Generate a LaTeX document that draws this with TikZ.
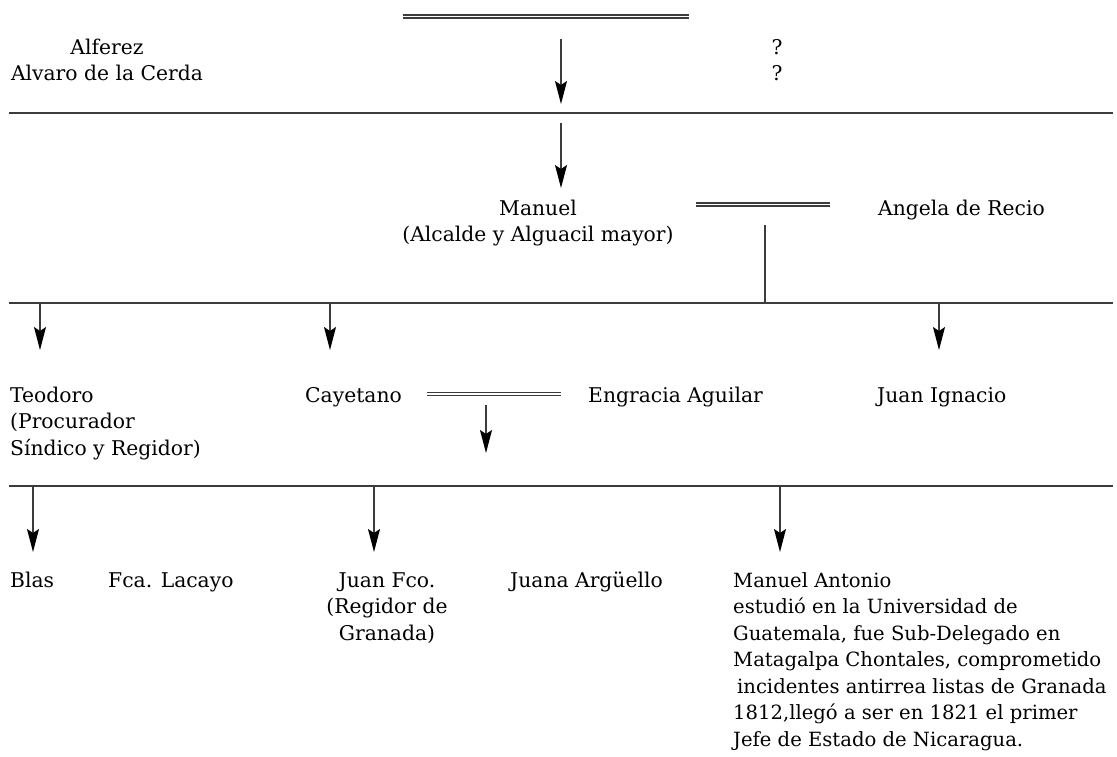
\documentclass[tikz,border=0pt]{standalone}
\usepackage{fontspec}
\setmainfont{DejaVu Serif}
\usetikzlibrary{arrows.meta}

\begin{document}
\begin{tikzpicture}[x=1pt, y=-1pt, font=\fontsize{20.3}{26.5}\selectfont]

  \definecolor{my_line}{RGB}{60,60,60}

  \tikzstyle{person} = [inner sep=0pt, anchor=base west, align=left]
  \tikzstyle{centred} = [inner sep=0pt, anchor=base, align=center]
  \tikzstyle{bar} = [draw=my_line, line width=1.4pt]
  \tikzstyle{marriage} = [draw=my_line, line width=1.3pt, double, double distance=1.8pt]
  \tikzstyle{descent} = [draw=my_line, line width=1.4pt, -{Stealth[length=23pt, width=12pt, inset=4pt, color=black]}]

  \useasboundingbox (0,0) rectangle (1117,756);

  % generation 1
  \coordinate (top_w) at (403,16.5);
  \coordinate (top_e) at (689,16.5);
  \node [centred] (alvaro) at (107,80.5) {Alferez\\Alvaro de la Cerda};
  \node [centred] (unknown) at (777,80.5) {?\\?};
  \path [marriage] (top_w) -- (top_e);
  \coordinate (a1_s) at (561,39);
  \coordinate (a1_e) at (561,104);
  \path [descent] (a1_s) -- (a1_e);

  % generation 2
  \coordinate (bar1_w) at (9,113);
  \coordinate (bar1_e) at (1113,113);
  \path [bar] (bar1_w) -- (bar1_e);
  \coordinate (a2_s) at (561,123);
  \node [centred] (manuel) at (538,241.5) {Manuel\\(Alcalde y Alguacil mayor)};
  \node [person] (angela) at (878,215) {Angela de Recio};
  \path [descent] (a2_s) -- (561,188);
  \coordinate (m1_w) at (696,204.5);
  \coordinate (m1_e) at (830,204.5);
  \path [marriage] (m1_w) -- (m1_e);
  \coordinate (m1_s) at (765,225);
  \coordinate (bar2_m) at (765,303);
  \path [bar] (m1_s) -- (bar2_m);

  % generation 3
  \coordinate (bar2_w) at (9,303);
  \coordinate (bar2_e) at (1113,303);
  \path [bar] (bar2_w) -- (bar2_e);
  \node [person] (teodoro) at (10,455) {Teodoro\\(Procurador\\Síndico y Regidor)};
  \node [person] (cayetano) at (305,402) {Cayetano};
  \node [person] (engracia) at (588,402) {Engracia Aguilar};
  \node [person] (juanignacio) at (877,402) {Juan Ignacio};
  \foreach \x in {40, 330, 939}
    \path [descent] (\x,303) -- (\x,350);
  \coordinate (m2_w) at (427,394);
  \coordinate (m2_e) at (561,394);
  \path [marriage] (m2_w) -- (m2_e);
  \coordinate (a3_s) at (486,405);
  \path [descent] (a3_s) -- (486,453);

  % generation 4
  \coordinate (bar3_w) at (9,486);
  \coordinate (bar3_e) at (1113,486);
  \path [bar] (bar3_w) -- (bar3_e);
  \node [person] (blas) at (10,587) {Blas};
  \node [person] (lacayo) at (108,587) {Fca. Lacayo};
  \node [centred] (juanfco) at (387,640) {Juan Fco.\\(Regidor de\\Granada)};
  \node [person] (juana) at (510,587) {Juana Argüello};
  \node [person, font=\fontsize{19.6}{26.5}\selectfont] (manuelantonio) at (733,746) {Manuel Antonio\\estudió en la Universidad de\\Guatemala, fue Sub-Delegado en\\Matagalpa Chontales, comprometido\\\hspace*{0.2em}incidentes antirrea listas de Granada\\1812,llegó a ser en 1821 el primer\\Jefe de Estado de Nicaragua.};
  \foreach \x in {33, 374, 780}
    \path [descent] (\x,486) -- (\x,552);

\end{tikzpicture}
\end{document}
